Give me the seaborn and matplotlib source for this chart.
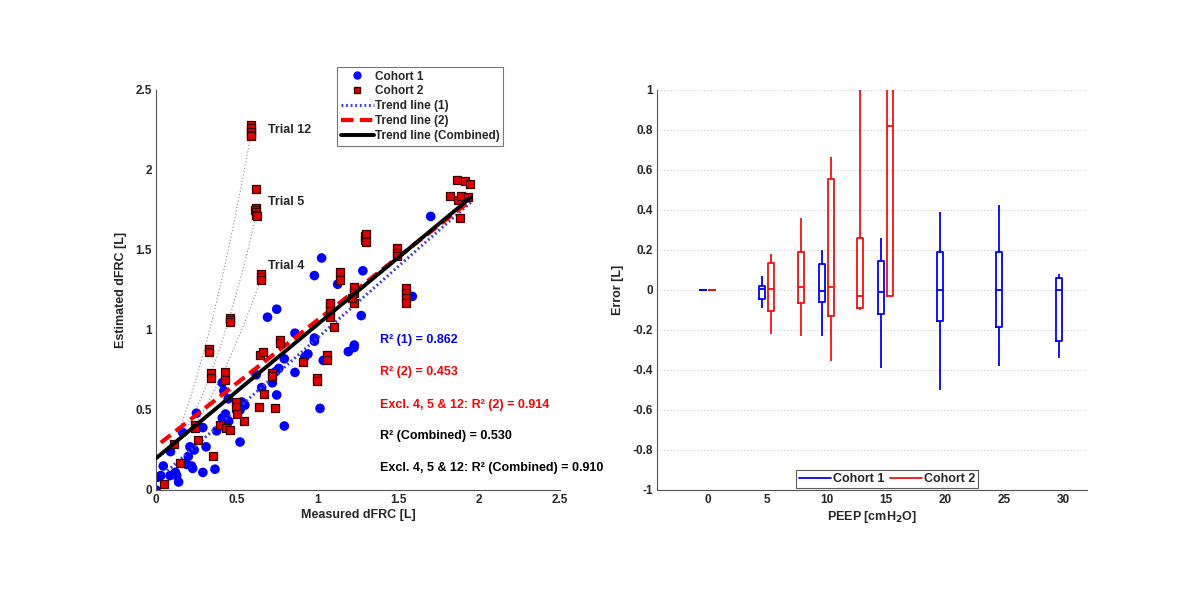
import numpy as np
import pandas as pd
import matplotlib
matplotlib.use("Agg")
import matplotlib.pyplot as plt
from matplotlib.lines import Line2D
import seaborn as sns

# ---------------- data: left panel ----------------
c1_measured = [0.00, 0.01, 0.03, 0.045, 0.087, 0.09, 0.12, 0.128, 0.14, 0.165, 0.19, 0.20, 0.21, 0.22,
               0.227, 0.237, 0.25, 0.29, 0.29, 0.31, 0.365, 0.375, 0.41, 0.42, 0.41, 0.43, 0.44, 0.45,
               0.447, 0.44, 0.52, 0.53, 0.55, 0.52, 0.62, 0.794, 0.74, 0.76, 0.86, 0.92, 0.94, 0.98,
               0.72, 0.654, 0.747, 1.015, 0.794, 1.035, 1.19, 1.225, 1.025, 0.98, 1.124, 1.28, 0.747,
               0.69, 1.27, 0.86, 0.98, 1.227, 1.70, 1.586]
c1_estimated = [0.00, 0.08, 0.09, 0.15, 0.09, 0.24, 0.11, 0.09, 0.05, 0.36, 0.16, 0.21, 0.27, 0.15,
                0.135, 0.25, 0.48, 0.39, 0.11, 0.27, 0.13, 0.37, 0.67, 0.62, 0.45, 0.475, 0.44, 0.43,
                0.57, 0.39, 0.30, 0.55, 0.53, 0.50, 0.72, 0.82, 0.74, 0.76, 0.735, 0.83, 0.85, 0.93,
                0.67, 0.64, 0.594, 0.51, 0.40, 0.81, 0.865, 0.89, 1.45, 1.34, 1.286, 1.37, 1.13,
                1.08, 1.09, 0.98, 0.95, 0.906, 1.71, 1.21]

c2_measured = [0.59, 0.59, 0.59, 0.59, 0.59,
               0.617, 0.62, 0.61, 0.62, 0.62, 0.625,
               0.65, 0.65, 0.65,
               0.05, 0.148, 0.111, 0.262, 0.35, 0.24, 0.24,
               0.33, 0.33, 0.34, 0.34, 0.427, 0.427, 0.396, 0.433, 0.458,
               0.495, 0.495, 0.503, 0.546, 0.644, 0.64,
               0.458, 0.458, 0.46, 0.66, 0.716, 0.716, 0.767, 0.77, 0.668, 0.736, 0.908, 0.994, 0.994,
               1.06, 1.06, 1.077, 1.077, 1.10, 1.225, 1.225, 1.225,
               1.293, 1.293, 1.30, 1.30, 1.14, 1.14, 1.21, 1.077, 1.077,
               1.86, 1.91, 1.945, 1.82, 1.87, 1.89, 1.93, 1.88,
               1.49, 1.49, 1.49, 1.55, 1.55, 1.55, 1.55]
c2_estimated = [2.28, 2.26, 2.24, 2.22, 2.21,
                1.88, 1.76, 1.75, 1.74, 1.72, 1.71,
                1.35, 1.33, 1.31,
                0.037, 0.167, 0.29, 0.31, 0.215, 0.406, 0.39,
                0.88, 0.865, 0.73, 0.70, 0.74, 0.69, 0.406, 0.385, 0.375,
                0.55, 0.52, 0.475, 0.43, 0.844, 0.52,
                1.073, 1.06, 1.05, 0.86, 0.73, 0.71, 0.94, 0.92, 0.60, 0.51, 0.80, 0.70, 0.68,
                0.844, 0.81, 1.156, 1.12, 1.02, 1.27, 1.23, 1.17,
                1.59, 1.56, 1.60, 1.55, 1.36, 1.31, 1.20, 1.08, 1.17,
                1.94, 1.93, 1.91, 1.84, 1.81, 1.84, 1.83, 1.70,
                1.51, 1.48, 1.46, 1.26, 1.23, 1.20, 1.17]

# trend-line fits (intercept, slope) and fitted x-range
trend1 = (0.057, 0.894); trend1_range = (0.07, 1.95)
trend2 = (0.272, 0.790); trend2_range = (0.03, 1.93)
trendc = (0.198, 0.837); trendc_range = (0.00, 1.95)

# faint trial curves
trial12_x = [0.15, 0.25, 0.35, 0.45, 0.52, 0.59]
trial12_y = [0.38, 0.72, 1.08, 1.50, 1.85, 2.25]
trial5_x = [0.20, 0.33, 0.45, 0.53, 0.62]
trial5_y = [0.40, 0.72, 1.05, 1.35, 1.72]
trial4_x = [0.25, 0.40, 0.52, 0.65]
trial4_y = [0.42, 0.70, 0.98, 1.32]

r2_texts = ["R\u00b2 (1) = 0.862", "R\u00b2 (2) = 0.453", "Excl. 4, 5 & 12: R\u00b2 (2) = 0.914",
            "R\u00b2 (Combined) = 0.530", "Excl. 4, 5 & 12: R\u00b2 (Combined) = 0.910"]

# ---------------- data: right panel (box stats: min, q1, median, q3, max) ----------------
c1_peep = [0, 5, 10, 15, 20, 25, 30]
c1_min = [0.0, -0.09, -0.23, -0.39, -0.50, -0.38, -0.34]
c1_q1 = [0.0, -0.047, -0.06, -0.12, -0.153, -0.183, -0.253]
c1_med = [0.0, 0.003, -0.003, -0.008, 0.0, 0.0, 0.0]
c1_q3 = [0.0, 0.02, 0.13, 0.147, 0.19, 0.188, 0.062]
c1_max = [0.0, 0.07, 0.20, 0.258, 0.39, 0.423, 0.078]

c2_peep = [0, 5, 7.5, 10, 12.5, 15]
c2_min = [0.0, -0.22, -0.23, -0.353, -0.10, -0.03]
c2_q1 = [0.0, -0.103, -0.063, -0.13, -0.09, -0.03]
c2_med = [0.0, 0.003, 0.013, 0.013, -0.028, 0.82]
c2_q3 = [0.0, 0.137, 0.19, 0.553, 0.258, 1.45]
c2_max = [0.0, 0.18, 0.36, 0.663, 1.25, 2.0]

# ---------------- styling ----------------
sns.set_style("white")
plt.rcParams["font.family"] = ["Liberation Sans", "DejaVu Sans"]
plt.rcParams["font.weight"] = "bold"
plt.rcParams["axes.labelweight"] = "bold"

BLUE = "#0000ff"
RED = "#e00000"

fig = plt.figure(figsize=(12, 6.02), dpi=100)
ax1 = fig.add_axes([156 / 1200, 112 / 602, 404 / 1200, 400 / 602])
ax2 = fig.add_axes([657 / 1200, 112 / 602, 430 / 1200, 400 / 602])

# ---------------- left panel ----------------
df1 = pd.DataFrame({"Measured": c1_measured, "Estimated": c1_estimated})
df2 = pd.DataFrame({"Measured": c2_measured, "Estimated": c2_estimated})

for tx, ty in [(trial12_x, trial12_y), (trial5_x, trial5_y), (trial4_x, trial4_y)]:
    xs = np.linspace(tx[0], tx[-1], 50)
    coef = np.polyfit(tx, ty, 2)
    sns.lineplot(x=xs, y=np.polyval(coef, xs), ax=ax1, color="#888888", lw=0.8,
                 linestyle=(0, (1, 2)), legend=False, zorder=1)

sns.scatterplot(data=df1, x="Measured", y="Estimated", ax=ax1, marker="o", s=48,
                color=BLUE, edgecolor="none", linewidth=0, zorder=2)

def trend(ax, coefs, rng, **kw):
    xs = np.array(rng)
    sns.lineplot(x=xs, y=coefs[0] + coefs[1] * xs, ax=ax, legend=False, **kw)

trend(ax1, trend1, trend1_range, color="#4040e0", lw=2.2, linestyle=(0, (0.6, 0.9)), zorder=3)
trend(ax1, trend2, trend2_range, color="#ff0000", lw=3.0, linestyle=(0, (3, 1.5)), zorder=3)

sns.scatterplot(data=df2, x="Measured", y="Estimated", ax=ax1, marker="s", s=36,
                color=RED, edgecolor="#3a0000", linewidth=0.9, zorder=4)
trend(ax1, trendc, trendc_range, color="black", lw=2.8, linestyle="-", zorder=5)

ax1.set_xlim(0, 2.5)
ax1.set_ylim(0, 2.5)
ax1.set_xticks([0, 0.5, 1, 1.5, 2, 2.5])
ax1.set_yticks([0, 0.5, 1, 1.5, 2, 2.5])
ax1.set_xticklabels(["0", "0.5", "1", "1.5", "2", "2.5"])
ax1.set_yticklabels(["0", "0.5", "1", "1.5", "2", "2.5"])
ax1.set_xlabel("Measured dFRC [L]", fontsize=9, fontweight="bold", labelpad=2)
ax1.set_ylabel("Estimated dFRC [L]", fontsize=9, fontweight="bold", labelpad=6)
for sp in ["top", "right"]:
    ax1.spines[sp].set_visible(False)
for sp in ["left", "bottom"]:
    ax1.spines[sp].set_color("#555555")
ax1.tick_params(direction="in", length=4, labelsize=8.5, color="#555555", pad=3)
for lab in ax1.get_xticklabels() + ax1.get_yticklabels():
    lab.set_fontweight("bold")

ax1.text(0.693, 2.25, "Trial 12", fontsize=9, fontweight="bold", va="center")
ax1.text(0.693, 1.80, "Trial 5", fontsize=9, fontweight="bold", va="center")
ax1.text(0.693, 1.40, "Trial 4", fontsize=9, fontweight="bold", va="center")

r2_colors = [BLUE, "#ff0000", "#ff0000", "black", "black"]
r2_ys = [0.94, 0.74, 0.53, 0.34, 0.14]
for t, c, yv in zip(r2_texts, r2_colors, r2_ys):
    ax1.text(1.386, yv, t, color=c, fontsize=9, fontweight="bold", va="center")

h1 = [Line2D([], [], marker="o", color=BLUE, ls="none", ms=5),
      Line2D([], [], marker="s", color=RED, mec="#3a0000", ls="none", ms=5),
      Line2D([], [], color="#4040e0", lw=2.2, ls=(0, (0.6, 0.9))),
      Line2D([], [], color="#ff0000", lw=3.0, ls=(0, (3, 1.5))),
      Line2D([], [], color="black", lw=2.8)]
leg1 = ax1.legend(h1, ["Cohort 1", "Cohort 2", "Trend line (1)", "Trend line (2)", "Trend line (Combined)"],
                  loc="upper left", bbox_to_anchor=((337 - 156) / 404, (490 - 67) / 400),
                  prop={"weight": "bold", "size": 8.5}, frameon=True, fancybox=False,
                  edgecolor="#555555", handlelength=2.8, handletextpad=0.1, labelspacing=0.25,
                  borderpad=0.3, borderaxespad=0)
leg1.get_frame().set_linewidth(0.8)

# ---------------- right panel ----------------
def long_form(peep, mn, q1, md, q3, mx, offset):
    rows = []
    for p, a, b, c, d, e in zip(peep, mn, q1, md, q3, mx):
        for v in (a, b, c, d, e):
            rows.append({"PEEP": p + offset, "Error": v})
    return pd.DataFrame(rows)

box1 = long_form(c1_peep, c1_min, c1_q1, c1_med, c1_q3, c1_max, -0.4)
box2 = long_form(c2_peep, c2_min, c2_q1, c2_med, c2_q3, c2_max, 0.35)

ax2.yaxis.grid(True, color="#cccccc", linestyle=(0, (1, 2)), lw=0.8)
ax2.set_axisbelow(True)
sns.boxplot(data=box1, x="PEEP", y="Error", ax=ax2, native_scale=True, whis=(0, 100),
            width=0.1, fill=False, color=BLUE, linewidth=1.3, showcaps=False, zorder=3)
sns.boxplot(data=box2, x="PEEP", y="Error", ax=ax2, native_scale=True, whis=(0, 100),
            width=0.2, fill=False, color="#ee1111", linewidth=1.3, showcaps=False, zorder=3)

ax2.set_xlim(-4.3, 32.0)
ax2.set_ylim(-1, 1)
ax2.set_xticks([0, 5, 10, 15, 20, 25, 30])
ax2.set_xticklabels(["0", "5", "10", "15", "20", "25", "30"])
yt = [-1, -0.8, -0.6, -0.4, -0.2, 0, 0.2, 0.4, 0.6, 0.8, 1]
ax2.set_yticks(yt)
ax2.set_yticklabels(["-1", "-0.8", "-0.6", "-0.4", "-0.2", "0", "0.2", "0.4", "0.6", "0.8", "1"])
ax2.set_xlabel("PEEP [cmH$_\\mathbf{2}$O]", fontsize=9, fontweight="bold", labelpad=2)
ax2.set_ylabel("Error [L]", fontsize=9, fontweight="bold", labelpad=6)
for sp in ["top", "right"]:
    ax2.spines[sp].set_visible(False)
for sp in ["left", "bottom"]:
    ax2.spines[sp].set_color("#555555")
ax2.tick_params(direction="in", length=4, labelsize=8.5, color="#555555", pad=3)
for lab in ax2.get_xticklabels() + ax2.get_yticklabels():
    lab.set_fontweight("bold")

h2 = [Line2D([], [], color=BLUE, lw=1.3), Line2D([], [], color="#ee1111", lw=1.3)]
leg2 = ax2.legend(h2, ["Cohort 1", "Cohort 2"], loc="lower center", ncol=2,
                  bbox_to_anchor=((887 - 657) / 430, 0.005), prop={"weight": "bold", "size": 9},
                  frameon=True, fancybox=False, edgecolor="#333333", handlelength=2.6,
                  handletextpad=0.15, columnspacing=0.4, borderpad=0.25, borderaxespad=0)
leg2.get_frame().set_linewidth(0.8)

fig.savefig("out.png", dpi=100, facecolor="white")
